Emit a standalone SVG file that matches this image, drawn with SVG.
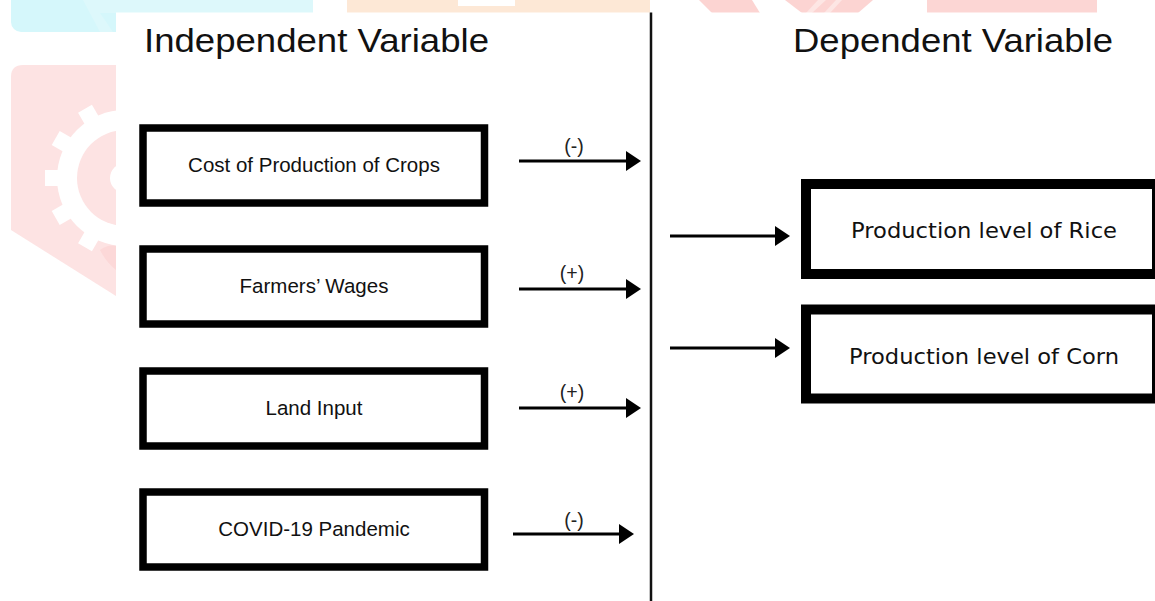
<svg xmlns="http://www.w3.org/2000/svg" width="1155" height="601" viewBox="0 0 1155 601">
<style>
.box{fill:#fff;stroke:#000;stroke-width:7.5}
.rbox{fill:#fff;stroke:#000;stroke-width:10}
.lt{font-family:"Liberation Sans",Arial,sans-serif;font-size:20.5px;fill:#111;text-anchor:middle}
.rt{font-family:"DejaVu Sans",sans-serif;font-size:22px;fill:#111;text-anchor:middle}
.hd{font-family:"Liberation Sans",Arial,sans-serif;font-size:34px;fill:#111}
.sg{font-family:"Liberation Sans",Arial,sans-serif;font-size:19.5px;fill:#222;text-anchor:middle}
.ar{stroke:#000;stroke-width:3;fill:none;marker-end:url(#ah)}
</style>
<defs>
<marker id="ah" viewBox="0 0 15 20" refX="1" refY="10" markerWidth="15" markerHeight="20" markerUnits="userSpaceOnUse" orient="auto">
<path d="M0,0 L15,10 L0,20 Z" fill="#000"/>
</marker>
</defs>
<g id="watermark">
<rect x="11" y="-20" width="302" height="52" rx="10" fill="#d5f7fb"/>
<polygon points="83,0 313,0 313,13 100,13 113,32 100,32" fill="#ddf8fb"/>
<rect x="347" y="0" width="303" height="13" fill="#fde8d6"/>
<rect x="458" y="0" width="57" height="6" fill="#fff"/>
<polygon points="699,0 752,0 760,13 712,13" fill="#fcd4d2"/>
<polygon points="785,0 873,0 858,13 802,13" fill="#fcd4d2"/>
<polygon points="818,0 826,0 812,13 806,13" fill="#fde6e4"/>
<polygon points="836,0 842,0 830,13 824,13" fill="#fde6e4"/>
<rect x="927" y="0" width="170" height="13" fill="#fcd6d4"/>
<path d="M11,77 Q11,65 23,65 L116,65 L116,296 L11,230 Z" fill="#fde3e3"/>
<g transform="translate(125,178)" fill="#fff">
<circle r="68"/>
<rect x="60" y="-8" width="20" height="16"/>
<rect x="60" y="-8" width="20" height="16" transform="rotate(30)"/>
<rect x="60" y="-8" width="20" height="16" transform="rotate(60)"/>
<rect x="60" y="-8" width="20" height="16" transform="rotate(90)"/>
<rect x="60" y="-8" width="20" height="16" transform="rotate(120)"/>
<rect x="60" y="-8" width="20" height="16" transform="rotate(150)"/>
<rect x="60" y="-8" width="20" height="16" transform="rotate(180)"/>
<rect x="60" y="-8" width="20" height="16" transform="rotate(210)"/>
<rect x="60" y="-8" width="20" height="16" transform="rotate(240)"/>
<rect x="60" y="-8" width="20" height="16" transform="rotate(270)"/>
<rect x="60" y="-8" width="20" height="16" transform="rotate(300)"/>
<rect x="60" y="-8" width="20" height="16" transform="rotate(330)"/>
<circle r="48" fill="#fde3e3"/>
<circle r="15" fill="#fff"/>
</g>
<path d="M100,250 Q108,244 116,246 L116,270 Q106,262 100,250 Z" fill="#fcd8d8"/>
</g>
<rect id="panel" x="116" y="12.5" width="1039" height="589" fill="#fff"/>
<g id="headers">
<text class="hd" x="144" y="52" textLength="345" lengthAdjust="spacingAndGlyphs">Independent Variable</text>
<text class="hd" x="793" y="52" textLength="320" lengthAdjust="spacingAndGlyphs">Dependent Variable</text>
</g>
<line id="divider" x1="651" y1="12.5" x2="651" y2="601" stroke="#111" stroke-width="2.5"/>
<g id="cost">
<rect class="box" x="143" y="128" width="341.5" height="75"/>
<text class="lt" x="314" y="172">Cost of Production of Crops</text>
</g>
<g id="wages">
<rect class="box" x="143" y="249" width="341.5" height="75"/>
<text class="lt" x="314" y="293">Farmers’ Wages</text>
</g>
<g id="land">
<rect class="box" x="143" y="371" width="341.5" height="75"/>
<text class="lt" x="314" y="415">Land Input</text>
</g>
<g id="covid">
<rect class="box" x="143" y="492" width="341.5" height="75"/>
<text class="lt" x="314" y="536">COVID-19 Pandemic</text>
</g>
<g id="rice">
<rect class="rbox" x="806" y="184" width="351" height="90"/>
<text class="rt" x="984" y="238" textLength="266" lengthAdjust="spacingAndGlyphs">Production level of Rice</text>
</g>
<g id="corn">
<rect class="rbox" x="806" y="309.5" width="351" height="89"/>
<text class="rt" x="984" y="364" textLength="270" lengthAdjust="spacingAndGlyphs">Production level of Corn</text>
</g>
<g id="connectors">
<line class="ar" x1="519" y1="161" x2="627" y2="161"/>
<text class="sg" x="574" y="153">(-)</text>
<line class="ar" x1="519" y1="289" x2="627" y2="289"/>
<text class="sg" x="572" y="280">(+)</text>
<line class="ar" x1="519" y1="408" x2="627" y2="408"/>
<text class="sg" x="572" y="399">(+)</text>
<line class="ar" x1="513" y1="534" x2="620" y2="534"/>
<text class="sg" x="574" y="527">(-)</text>
<line class="ar" x1="670" y1="236" x2="776" y2="236"/>
<line class="ar" x1="670" y1="348" x2="776" y2="348"/>
</g>
</svg>
